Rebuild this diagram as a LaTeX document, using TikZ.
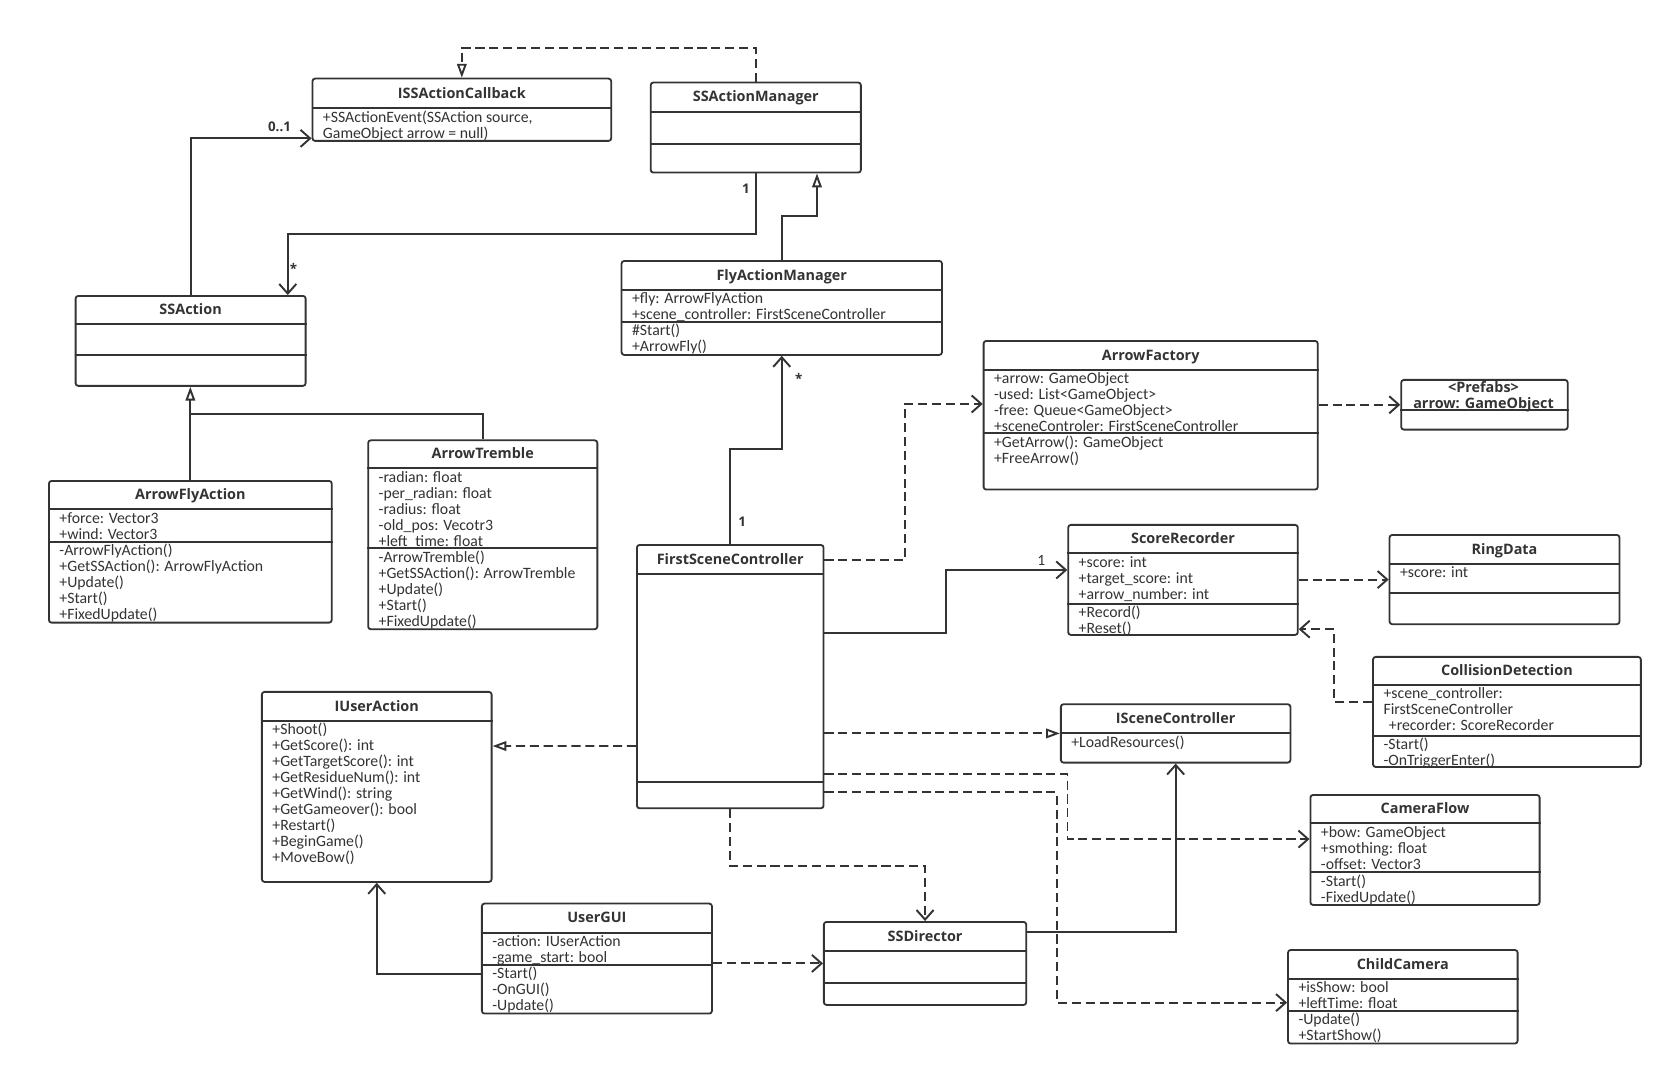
\documentclass[tikz,border=0pt]{standalone}
\usepackage{fontspec}
\setmainfont{Carlito}
\newfontfamily\titlefont{Open Sans}
\usetikzlibrary{arrows.meta,calc}
\definecolor{ink}{HTML}{333333}
\newcommand{\fs}{\rule{0pt}{11pt}}
\newcommand{\umlbox}[6]{%
  \node[cbox, minimum width=#4pt, minimum height=#5pt] (#1) at (#2,#3) {};
  \draw[sepl] ($(#1.north west)+(0,#6)$) -- ($(#1.north east)+(0,#6)$);}
\newcommand{\umlsep}[2]{\draw[sepl] ($(#1.north west)+(0,#2)$) -- ($(#1.north east)+(0,#2)$);}
\newcommand{\umltitle}[3]{\node[ctitle] (#1-title) at ($(#1.north)+(0,#3/2+4.8)$) {#2};}
\newcommand{\umltext}[4]{\node[citems] (#1-#2) at ($(#1.north west)+(10.5,#3+1.8)$) {\fs #4};}
\begin{document}
\begin{tikzpicture}[x=1pt,y=-1pt,
  cbox/.style={draw=ink, line width=1.7pt, rounded corners=2.5pt, fill=white, inner sep=0pt, anchor=north west},
  sepl/.style={draw=ink, line width=1.7pt},
  ctitle/.style={font=\titlefont\bfseries\fontsize{13.5}{15}\selectfont, text=ink, inner sep=0pt, anchor=base},
  citems/.style={font=\fontsize{14.8}{15}\selectfont, text=ink, inner sep=0pt, anchor=north west, align=left},
  conn/.style={draw=ink, line width=1.8pt},
  assoc/.style={conn, -{Straight Barb[length=9pt,width=16pt]}},
  dep/.style={assoc, dash pattern=on 8.5pt off 4.5pt},
  gen/.style={conn, -{Triangle[length=13pt,width=9pt,fill=white]}},
  real/.style={gen, dash pattern=on 8.5pt off 4.5pt},
  multb/.style={font=\titlefont\bfseries\fontsize{12.5}{14}\selectfont, text=ink, inner sep=0pt, anchor=base},
  mult/.style={font=\fontsize{14.6}{15}\selectfont, text=ink, inner sep=0pt, anchor=base}
]
\fill[white] (0,0) rectangle (1568,1007);
\useasboundingbox (0,0) rectangle (1568,1007);

% ---------- classes ----------
\umlbox{isac}{292}{72.8}{280}{58.4}{28.7}
\umltitle{isac}{ISSActionCallback}{28.7}
\umltext{isac}{a}{28.7}{+SSActionEvent(SSAction source,\\GameObject arrow = null)}

\umlbox{sam}{609}{76.5}{197}{84.4}{28.2}
\umlsep{sam}{58.8}
\umltitle{sam}{SSActionManager}{28.2}

\umlbox{ssa}{70}{276.5}{215.6}{84.3}{27.5}
\umlsep{ssa}{56.2}
\umltitle{ssa}{SSAction}{27.5}

\umlbox{fam}{581.7}{243.7}{300.3}{88.1}{28.1}
\umlsep{fam}{57.8}
\umltitle{fam}{FlyActionManager}{28.1}
\umltext{fam}{a}{28.1}{+fly: ArrowFlyAction\\+scene\_controller: FirstSceneController}
\umltext{fam}{o}{57.8}{\#Start()\\+ArrowFly()}

\umlbox{afa}{45}{449.9}{265.1}{132.8}{27.5}
\umlsep{afa}{57.8}
\umltitle{afa}{ArrowFlyAction}{27.5}
\umltext{afa}{a}{27.5}{+force: Vector3\\+wind: Vector3}
\umltext{afa}{o}{57.8}{-ArrowFlyAction()\\+GetSSAction(): ArrowFlyAction\\+Update()\\+Start()\\+FixedUpdate()}

\umlbox{at}{344.2}{411.8}{214.8}{177.1}{27.1}
\umlsep{at}{102.1}
\umltitle{at}{ArrowTremble}{27.1}
\umltext{at}{a}{27.1}{-radian: float\\-per\_radian: float\\-radius: float\\-old\_pos: Vecotr3\\+left\_time: float}
\umltext{at}{o}{102.1}{-ArrowTremble()\\+GetSSAction(): ArrowTremble\\+Update()\\+Start()\\+FixedUpdate()}

\umlbox{fsc}{596.1}{509.9}{174.9}{246.8}{27.8}
\umlsep{fsc}{222.7}
\umltitle{fsc}{FirstSceneController}{27.8}

\umlbox{af}{921}{318.7}{313.2}{139.3}{28.1}
\umlsep{af}{87.4}
\umltitle{af}{ArrowFactory}{28.1}
\umltext{af}{a}{28.1}{+arrow: GameObject\\-used: List<GameObject>\\-free: Queue<GameObject>\\+sceneControler: FirstSceneController}
\umltext{af}{o}{87.4}{+GetArrow(): GameObject\\+FreeArrow()}

\umlbox{pf}{1312.4}{355.2}{156}{46.6}{29.4}
\node[ctitle] (pf-t1) at (1390.4,368) {<Prefabs>};
\node[ctitle] (pf-t2) at (1390.4,382.5) {arrow: GameObject};

\umlbox{sr}{1000.3}{491.1}{215.2}{103.1}{27.5}
\umlsep{sr}{75}
\umltitle{sr}{ScoreRecorder}{27.5}
\umltext{sr}{a}{27.5}{+score: int\\+target\_score: int\\+arrow\_number: int}
\umltext{sr}{o}{75}{+Record()\\+Reset()}

\umlbox{rd}{1301.5}{500.5}{215.5}{83.7}{28.1}
\umlsep{rd}{55.6}
\umltitle{rd}{RingData}{28.1}
\umltext{rd}{a}{28.1}{+score: int}

\umlbox{cd}{1286}{614.8}{251}{103.2}{27.2}
\umlsep{cd}{75}
\umltitle{cd}{CollisionDetection}{27.2}
\umltext{cd}{a}{27.2}{+scene\_controller:\\FirstSceneController\\\hspace*{5pt}+recorder: ScoreRecorder}
\umltext{cd}{o}{75}{-Start()\\-OnTriggerEnter()}

\umlbox{isc}{993.4}{659.2}{215.2}{54.7}{28.1}
\umltitle{isc}{ISceneController}{28.1}
\umltext{isc}{a}{28.1}{+LoadResources()}

\umlbox{iua}{244.6}{647.6}{215.3}{178.1}{28.2}
\umltitle{iua}{IUserAction}{28.2}
\umltext{iua}{a}{28.2}{+Shoot()\\+GetScore(): int\\+GetTargetScore(): int\\+GetResidueNum(): int\\+GetWind(): string\\+GetGameover(): bool\\+Restart()\\+BeginGame()\\+MoveBow()}

\umlbox{gui}{450.8}{846}{215.6}{103.1}{28.2}
\umlsep{gui}{58.4}
\umltitle{gui}{UserGUI}{28.2}
\umltext{gui}{a}{28.2}{-action: IUserAction\\-game\_start: bool}
\umltext{gui}{o}{58.4}{-Start()\\-OnGUI()\\-Update()}

\umlbox{ssd}{771.3}{863.2}{189.7}{77.8}{28.1}
\umlsep{ssd}{57.8}
\umltitle{ssd}{SSDirector}{28.1}

\umlbox{cf}{1227.3}{744.2}{214.8}{103.1}{27.5}
\umlsep{cf}{73.4}
\umltitle{cf}{CameraFlow}{27.5}
\umltext{cf}{a}{27.5}{+bow: GameObject\\+smothing: float\\-offset: Vector3}
\umltext{cf}{o}{73.4}{-Start()\\-FixedUpdate()}

\umlbox{cc}{1206.3}{889.5}{215.2}{87.7}{28.1}
\umlsep{cc}{57.7}
\umltitle{cc}{ChildCamera}{28.1}
\umltext{cc}{a}{28.1}{+isShow: bool\\+leftTime: float}
\umltext{cc}{o}{57.7}{-Update()\\+StartShow()}

% ---------- connectors ----------
\draw[real] (sam.north) -- ++(0,-31.8) -| (isac.north);
\draw[assoc] (ssa.north) |- ($(isac.south west)+(0,-3.2)$);
\draw[assoc] (sam.south) -- ++(0,57.1) -| ($(ssa.north east)+(-17.6,0)$);
\draw[gen] (fam.north) -- ++(0,-41.3) -| ($(sam.south east)+(-42,0)$);
\draw[gen] (afa.north) -- (afa.north |- ssa.south);
\draw[conn] (at.north) |- ($(ssa.south)+(0,25.7)$);
\draw[assoc] (fsc.north) -- ++(0,-88.8) -| (fam.south);
\draw[dep] ($(fsc.north east)+(0,15)$) -- ++(75.1,0) |- ($(af.north west)+(0,59.9)$);
\draw[dep] (pf.west -| af.east) -- (pf.west);
\draw[assoc] ($(fsc.north east)+(0,83.7)$) -- ++(113.7,0) |- ($(sr.north west)+(0,43.1)$);
\draw[dep] (rd.west -| sr.east) -- (rd.west);
\draw[dep] ($(cd.north west)+(0,42.8)$) -- ++(-35.8,0) |- ($(sr.south east)+(0,-6.2)$);
\draw[real] (isc.west -| fsc.east) -- (isc.west);
\draw[real] ($(fsc.north west)+(0,189.3)$) -- ($(iua.north east)+(0,51.6)$);
\draw[assoc] ($(gui.north west)+(0,66.9)$) -| (iua.south);
\draw[dep] (ssd.west -| gui.east) -- (ssd.west);
\draw[dep] (fsc.south) -- ++(0,53.3) -| (ssd.north);
\draw[assoc] ($(ssd.north east)+(0,10)$) -| (isc.south);
\draw[dep] ($(fsc.north east)+(0,215.5)$) -- ++(227.8,0) |- ($(cf.north west)+(0,42.2)$);
\draw[dep] ($(fsc.north east)+(0,232.7)$) -- ++(217.8,0) |- ($(cc.north west)+(0,50.2)$);

% ---------- multiplicities ----------
\node[multb] (m1) at (262,123.5) {0..1};
\node[multb] (m2) at (699.2,181.2) {1};
\node[multb] (m3) at (275,256.7) {*};
\node[multb] (m4) at (748.6,359.8) {*};
\node[multb] (m5) at (695.5,493) {1};
\node[mult] (m6) at (976,530.2) {1};
\end{tikzpicture}
\end{document}
